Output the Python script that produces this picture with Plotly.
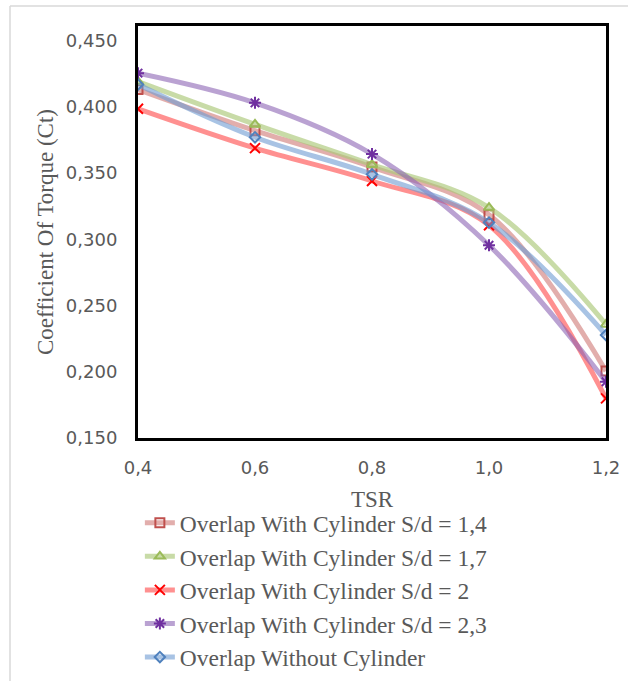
import plotly.graph_objects as go

tsr = [0.4, 0.6, 0.8, 1.0, 1.2]
ct_sd14 = [0.413, 0.382, 0.3545, 0.3186, 0.2005]
ct_sd17 = [0.419, 0.3867, 0.3563, 0.3239, 0.2357]
ct_sd2 = [0.3985, 0.3688, 0.344, 0.3106, 0.1799]
ct_sd23 = [0.4254, 0.403, 0.3643, 0.2955, 0.1924]
ct_none = [0.4168, 0.377, 0.349, 0.3126, 0.2277]

names = [
    "Overlap With Cylinder S/d = 1,4",
    "Overlap With Cylinder S/d = 1,7",
    "Overlap With Cylinder S/d = 2",
    "Overlap With Cylinder S/d = 2,3",
    "Overlap Without Cylinder",
]
series = [ct_sd14, ct_sd17, ct_sd2, ct_sd23, ct_none]
line_colors = [
    "rgba(210,130,128,0.65)",
    "rgba(170,200,120,0.65)",
    "rgba(255,70,70,0.6)",
    "rgba(140,100,180,0.6)",
    "rgba(110,155,210,0.6)",
]
marker_colors = ["#C0504D", "#9BBB59", "#FF0000", "#7030A0", "#4F81BD"]
symbols = ["square-open", "triangle-up-open", "x-thin-open", "asterisk-open", "diamond-open"]
msizes = [9, 9, 10, 10, 8]

fig = go.Figure()
for i in range(5):
    fig.add_trace(go.Scatter(
        x=tsr, y=series[i], name=names[i], mode="lines+markers",
        line=dict(color=line_colors[i], width=5, shape="spline", smoothing=1.0),
        marker=dict(symbol=symbols[i], size=msizes[i], color=marker_colors[i],
                    line=dict(color=marker_colors[i], width=2)),
        legendgroup=str(i),
    ))

tick_font = dict(family="DejaVu Sans", size=18, color="#595959")
title_font = dict(family="Liberation Serif, Times New Roman", size=23, color="#595959")

fig.update_layout(
    width=628, height=681,
    margin=dict(l=138, r=22, t=26, b=243, autoexpand=False),
    paper_bgcolor="white", plot_bgcolor="white",
    showlegend=True,
    legend=dict(
        x=0.004, xanchor="left", y=-0.153, yanchor="top",
        font=dict(family="Liberation Serif, Times New Roman", size=23.5, color="#595959"),
        tracegroupgap=0, itemwidth=30, bgcolor="rgba(0,0,0,0)",
    ),
    xaxis=dict(
        range=[0.4, 1.2], tickvals=[0.4, 0.6, 0.8, 1.0, 1.2],
        ticktext=["0,4", "0,6", "0,8", "1,0", "1,2"],
        showgrid=False, zeroline=False, showline=True, linecolor="black", linewidth=3,
        mirror=True, ticks="", tickfont=tick_font, ticklabelstandoff=11,
        title=dict(text="TSR", font=title_font, standoff=15), automargin=False,
    ),
    yaxis=dict(
        range=[0.15, 0.461], tickvals=[0.15, 0.2, 0.25, 0.3, 0.35, 0.4, 0.45],
        ticktext=["0,150", "0,200", "0,250", "0,300", "0,350", "0,400", "0,450"],
        showgrid=False, zeroline=False, showline=True, linecolor="black", linewidth=3,
        mirror=True, ticks="", tickfont=tick_font, ticklabelstandoff=14,
        title=dict(text="Coefficient Of Torque (Ct)", font=title_font, standoff=6),
        automargin=False,
    ),
    shapes=[
        dict(type="line", xref="paper", yref="paper", x0=-0.2735, x1=1.1, y0=1.0485, y1=1.0485,
             line=dict(color="#D9D9D9", width=1.5)),
        dict(type="line", xref="paper", yref="paper", x0=-0.2735, x1=-0.2735, y0=1.0485, y1=-0.6,
             line=dict(color="#D9D9D9", width=1.5)),
    ],
)

fig.write_html("out.html", config={"displayModeBar": False},
               post_script="document.body.style.margin='0';document.body.style.overflow='hidden';")
